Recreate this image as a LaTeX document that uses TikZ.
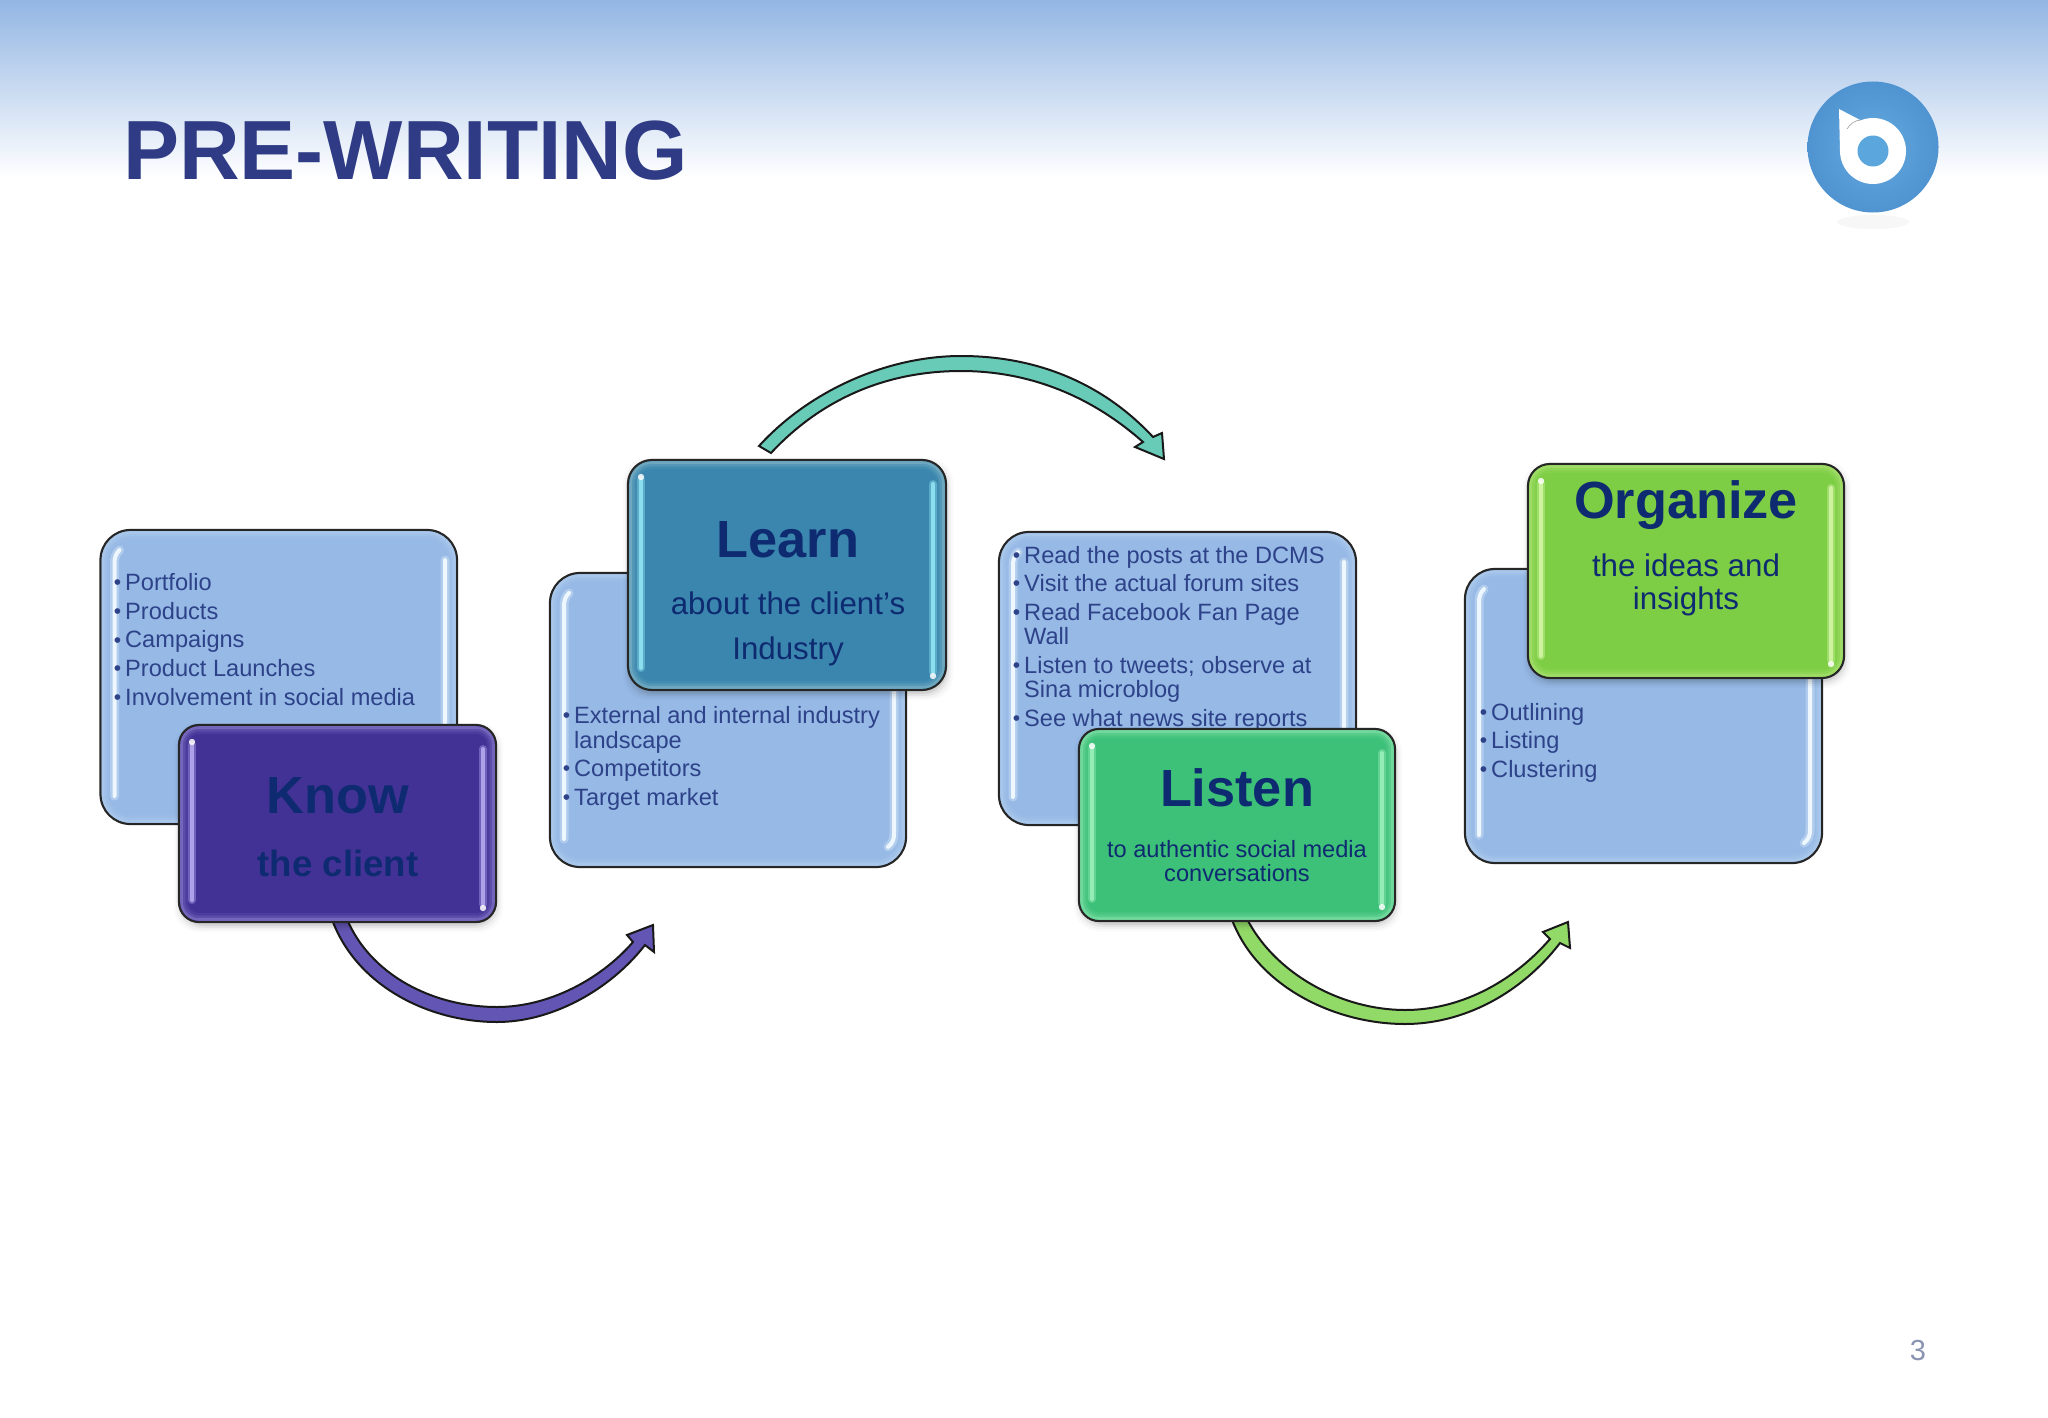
\documentclass[tikz,border=0pt]{standalone}
\usepackage{fontspec}
\setmainfont{Liberation Sans}
\pgfdeclarelayer{pagelayer}
\pgfdeclarelayer{arrowlayer}
\pgfsetlayers{pagelayer,arrowlayer,main}
\definecolor{navy}{HTML}{0E2A70}
\definecolor{listblue}{HTML}{2D4288}
\definecolor{titleblue}{HTML}{2F3B85}
\definecolor{pagegrey}{HTML}{8A93B2}
\definecolor{backbase}{HTML}{96B9E6}
\definecolor{backrim}{HTML}{ADCBEC}
\definecolor{backbar}{HTML}{F2FAFF}
\definecolor{knowbase}{HTML}{433296}
\definecolor{knowrim}{HTML}{8377C8}
\definecolor{knowbar}{HTML}{B4AAF0}
\definecolor{learnbase}{HTML}{3A86AE}
\definecolor{learnrim}{HTML}{7DB2C6}
\definecolor{learnbar}{HTML}{90E4F2}
\definecolor{listenbase}{HTML}{3DC179}
\definecolor{listenrim}{HTML}{82E0A8}
\definecolor{listenbar}{HTML}{9AF0BC}
\definecolor{orgbase}{HTML}{7DCE45}
\definecolor{orgrim}{HTML}{A8E070}
\definecolor{orgbar}{HTML}{D2F6A4}
\definecolor{arrowpurple}{HTML}{6355B4}
\definecolor{arrowteal}{HTML}{68CBB8}
\definecolor{arrowgreen}{HTML}{92DA68}
\definecolor{logoblue}{HTML}{5CA6DE}
\definecolor{logoedge}{HTML}{4F93D0}
\definecolor{headtop}{HTML}{93B6E3}
\definecolor{headmid}{HTML}{C6DAF1}
\tikzset{
  boxbase/.style={draw=black!85,line width=2.2pt,inner sep=0pt,outer sep=0pt},
  listitem/.style={anchor=base west,inner sep=0pt,text=listblue,font=\fontsize{23.6}{24}\selectfont},
  headword/.style={anchor=base,inner sep=0pt,text=navy,font=\fontsize{52.3}{52}\selectfont\bfseries},
  subbold/.style={anchor=base,inner sep=0pt,text=navy,font=\fontsize{36.6}{38}\selectfont\bfseries},
  subtext/.style={anchor=base,inner sep=0pt,text=navy,font=\fontsize{31.3}{32}\selectfont},
  subsmall/.style={anchor=base,inner sep=0pt,text=navy,font=\fontsize{23.6}{24}\selectfont},
  blockarrow/.style={draw=black!90,line width=2pt,line join=miter},
}
\newcommand{\blt}{\llap{\raisebox{0.5pt}{\fontsize{21}{21}\selectfont •}\hspace{4pt}}}
\newcommand{\glossbox}[9]{%
  \pgfmathsetmacro\gcx{(#2+#4)/2}\pgfmathsetmacro\gcy{(#3+#5)/2}%
  \pgfmathsetmacro\gw{#4-#2}\pgfmathsetmacro\gh{#5-#3}%
  \node[boxbase,fill=#7,rounded corners=#6pt,minimum width=\gw pt,minimum height=\gh pt] (#1) at (\gcx,\gcy) {};
  \foreach \ins/\op in {2.5/.75,5/.4,7.5/.15}{
    \draw[#8,opacity=\op,line width=2.6pt,rounded corners={#6pt-\ins pt}] ({#2+\ins},{#3+\ins}) rectangle ({#4-\ins},{#5-\ins});
  }
}
\newcommand{\backbars}[4]{%
  \foreach \lw/\op in {9/.3,4/.95}{
    \draw[backbar,opacity=\op,line width=\lw pt,line cap=round]
      ({#1+14},{#4-28}) -- ({#1+14},{#2+34}) .. controls ({#1+14},{#2+28}) and ({#1+15},{#2+24}) .. ({#1+19},{#2+20});
    \draw[backbar,opacity=\op,line width=\lw pt,line cap=round]
      ({#3-12},{#2+30}) -- ({#3-12},{#4-34}) .. controls ({#3-12},{#4-28}) and ({#3-13},{#4-24}) .. ({#3-18},{#4-20});
  }
}
\newcommand{\frontbars}[5]{%
  \foreach \lw/\op in {8/.4,4/.9}{
    \draw[#5,opacity=\op,line width=\lw pt,line cap=round] ({#1+13},{#4-22}) -- ({#1+13},{#2+20});
    \draw[#5,opacity=\op,line width=\lw pt,line cap=round] ({#3-13},{#2+24}) -- ({#3-13},{#4-18});
  }
  \fill[white,opacity=.85] ({#1+13},{#2+17}) circle (3.2);
  \fill[white,opacity=.85] ({#3-13},{#4-14}) circle (3.2);
}
\newcommand{\softshadow}[4]{%
  \foreach \grow/\op in {6/.02,4/.03,2/.05,0/.07}{
    \fill[black,opacity=\op,rounded corners=24pt] ({#1+1-\grow},{#2+4-\grow}) rectangle ({#3+1+\grow},{#4+4+\grow});
  }
}
\begin{document}
\begin{tikzpicture}[x=1pt,y=-1pt]
\useasboundingbox (0,0) rectangle (2048,1418);
\begin{pgfonlayer}{pagelayer}
\fill[white] (0,0) rectangle (2048,1418);
\path[top color=headtop,middle color=headmid,bottom color=white] (0,0) rectangle (2048,178);
\end{pgfonlayer}
\node[anchor=base west,inner sep=0pt,text=titleblue,font=\fontsize{84}{84}\selectfont\bfseries] (title) at (123,179) {PRE-WRITING};
% logo
\fill[black!5,opacity=.6] (1873,222) ellipse (36 and 7);
\shade[inner color=logoblue!95!white,outer color=logoedge] (1873,147) circle (65.5);
\fill[white] (1873,151) circle (33);
\fill[white] (1839,109) -- (1862,121) -- (1840,152) -- cycle;
\fill[logoblue] (1873,151) circle (15.5);
\draw[black!35,line width=.7pt] (1847,129) .. controls (1850,124) and (1855,120) .. (1861,120);
% page number
\node[anchor=base,inner sep=0pt,text=pagegrey,font=\fontsize{29}{30}\selectfont] (pagenum) at (1918,1360) {3};

% back boxes and their lists
\glossbox{portfoliobox}{100.5}{530}{457}{824}{30}{backbase}{backrim}{backbar}\backbars{100.5}{530}{457}{824}
\node[listitem] (p1) at (125,590) {\blt Portfolio};
\node[listitem] (p2) at (125,619) {\blt Products};
\node[listitem] (p3) at (125,647.5) {\blt Campaigns};
\node[listitem] (p4) at (125,676) {\blt Product Launches};
\node[listitem] (p5) at (125,705) {\blt Involvement in social media};

\glossbox{industrybox}{550}{573}{906}{867}{30}{backbase}{backrim}{backbar}\backbars{550}{573}{906}{867}
\node[listitem] (i1) at (574,723) {\blt External and internal industry};
\node[listitem] (i1b) at (574,748) {landscape};
\node[listitem] (i2) at (574,776) {\blt Competitors};
\node[listitem] (i3) at (574,805) {\blt Target market};

\glossbox{readbox}{999}{532}{1356}{825}{30}{backbase}{backrim}{backbar}\backbars{999}{532}{1356}{825}
\node[listitem] (r1) at (1024,563) {\blt Read the posts at the DCMS};
\node[listitem] (r2) at (1024,591) {\blt Visit the actual forum sites};
\node[listitem] (r3) at (1024,620) {\blt Read Facebook Fan Page};
\node[listitem] (r3b) at (1024,644) {Wall};
\node[listitem] (r4) at (1024,673) {\blt Listen to tweets; observe at};
\node[listitem] (r4b) at (1024,697) {Sina microblog};
\node[listitem] (r5) at (1024,726) {\blt See what news site reports};

\glossbox{outlinebox}{1465}{569}{1822}{863}{30}{backbase}{backrim}{backbar}\backbars{1465}{569}{1822}{863}
\node[listitem] (o1) at (1491,720) {\blt Outlining};
\node[listitem] (o2) at (1491,748) {\blt Listing};
\node[listitem] (o3) at (1491,777) {\blt Clustering};

% front boxes
\softshadow{179}{725}{496}{922}
\glossbox{knowbox}{179}{725}{496}{922}{20}{knowbase}{knowrim}{knowbar}\frontbars{179}{725}{496}{922}{knowbar}
\node[headword] (knowt) at (338,813) {Know};
\node[subbold] (knows) at (338,876) {the client};

\softshadow{628}{460}{946}{690}
\glossbox{learnbox}{628}{460}{946}{690}{24}{learnbase}{learnrim}{learnbar}\frontbars{628}{460}{946}{690}{learnbar}
\node[headword] (learnt) at (788,557) {Learn};
\node[subtext] (learns1) at (788,614) {about the client’s};
\node[subtext] (learns2) at (788,659) {Industry};

\softshadow{1079}{729}{1395}{921}
\glossbox{listenbox}{1079}{729}{1395}{921}{20}{listenbase}{listenrim}{listenbar}\frontbars{1079}{729}{1395}{921}{listenbar}
\node[headword] (listent) at (1237,806) {Listen};
\node[subsmall] (listens1) at (1237,857) {to authentic social media};
\node[subsmall] (listens2) at (1237,881) {conversations};

\softshadow{1528}{464}{1844}{678}
\glossbox{organizebox}{1528}{464}{1844}{678}{22}{orgbase}{orgrim}{orgbar}\frontbars{1528}{464}{1844}{678}{orgbar}
\node[headword] (orgt) at (1686,518) {Organize};
\node[subtext] (orgs1) at (1686,576) {the ideas and};
\node[subtext] (orgs2) at (1686,609) {insights};

% block arrows, behind the boxes
\coordinate (purpletip) at (653,925);
\coordinate (teatip) at (1164,459);
\coordinate (greentip) at (1568,922);
\begin{pgfonlayer}{arrowlayer}
\draw[blockarrow,fill=arrowpurple]
  ([xshift=-6pt,yshift=4pt]knowbox.south) .. controls (355,985) and (428,1022) .. (497,1022)
  .. controls (552,1022) and (610,990) .. (645,945) -- (654,952) -- (purpletip) -- (627,935) -- (633,942)
  .. controls (600,980) and (548,1007) .. (497,1007) .. controls (433,1007) and (370,975) .. ([xshift=9pt,yshift=4pt]knowbox.south) -- cycle;
\draw[blockarrow,fill=arrowteal]
  ([shift={(-28,-14)}]learnbox.north) .. controls (810,390) and (888,356) .. (961,356)
  .. controls (1032,356) and (1100,380) .. (1153,437) -- (1162,433) -- (teatip) -- (1135,447) -- (1143,442)
  .. controls (1090,395) and (1028,371) .. (961,371) .. controls (892,371) and (825,395) .. ([shift={(-16,-7)}]learnbox.north) -- cycle;
\draw[blockarrow,fill=arrowgreen]
  ([xshift=-6pt,yshift=4pt]listenbox.south) .. controls (1255,985) and (1333,1024) .. (1405,1024)
  .. controls (1462,1024) and (1520,995) .. (1560,943) -- (1570,948) -- (greentip) -- (1543,932) -- (1550,939)
  .. controls (1510,985) and (1457,1010) .. (1405,1010) .. controls (1343,1010) and (1275,975) .. ([xshift=9pt,yshift=4pt]listenbox.south) -- cycle;
\end{pgfonlayer}
\end{tikzpicture}
\end{document}
